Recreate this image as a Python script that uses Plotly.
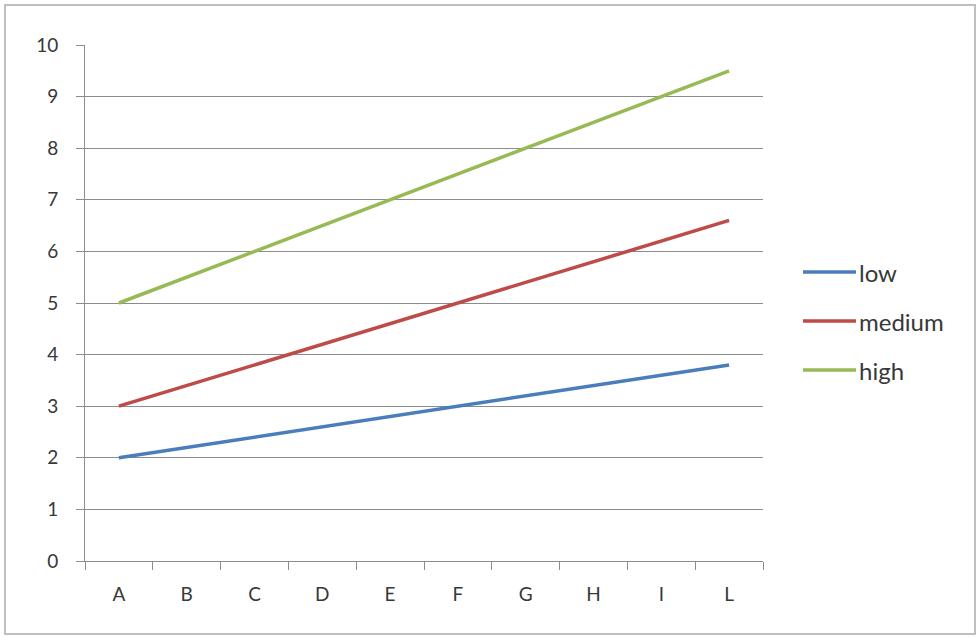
import plotly.graph_objects as go

categories = ["A", "B", "C", "D", "E", "F", "G", "H", "I", "L"]
low = [2.0, 2.2, 2.4, 2.6, 2.8, 3.0, 3.2, 3.4, 3.6, 3.8]
medium = [3.0, 3.4, 3.8, 4.2, 4.6, 5.0, 5.4, 5.8, 6.2, 6.6]
high = [5.0, 5.5, 6.0, 6.5, 7.0, 7.5, 8.0, 8.5, 9.0, 9.5]
series_names = ["low", "medium", "high"]
series_colors = ["#4A7EBB", "#BE4B48", "#98B954"]

FONT = "Lato, Carlito, 'Liberation Sans', sans-serif"
TEXT = "#383838"
GRID = "#8C8C8C"

fig = go.Figure()
for name, vals, col in zip(series_names, [low, medium, high], series_colors):
    fig.add_trace(go.Scatter(x=categories, y=vals, mode="lines", name=name,
                             line=dict(color=col, width=3.5), showlegend=False))

W, H = 979, 637
L, R, T, B = 85, 216, 45, 76
pw, ph = W - L - R, H - T - B

def px(xp):
    return (xp - L) / pw

def py(yp):
    return (H - B - yp) / ph

shapes = []
annotations = []
# outer frame
shapes.append(dict(type="rect", xref="paper", yref="paper",
                   x0=px(5), x1=px(975), y0=py(634), y1=py(5),
                   line=dict(color="#BFBFBF", width=2), layer="below"))
# legend entries
for i, (name, col) in enumerate(zip(series_names, series_colors)):
    yy = py(272 + 49 * i)
    shapes.append(dict(type="line", xref="paper", yref="paper",
                       x0=px(803), x1=px(856), y0=yy, y1=yy,
                       line=dict(color=col, width=3.5)))
    annotations.append(dict(xref="paper", yref="paper", x=px(857), y=yy,
                            text=name, showarrow=False, xanchor="left",
                            yanchor="middle",
                            font=dict(family=FONT, size=24, color=TEXT)))

fig.update_layout(
    width=W, height=H,
    margin=dict(l=L, r=R, t=T, b=B),
    paper_bgcolor="white", plot_bgcolor="white",
    shapes=shapes, annotations=annotations,
    font=dict(family=FONT, size=19, color=TEXT),
    xaxis=dict(type="category", range=[-0.5, 9.5], tickson="boundaries",
               ticks="outside", ticklen=8, tickcolor=GRID, showgrid=False,
               showline=True, linecolor=GRID, linewidth=1, zeroline=False,
               ticklabelstandoff=16, fixedrange=True),
    yaxis=dict(range=[0, 10], dtick=1, ticks="outside", ticklen=8,
               tickcolor=GRID, showgrid=True, gridcolor=GRID, gridwidth=1,
               showline=True, linecolor=GRID, linewidth=1, zeroline=False,
               ticklabelstandoff=14, fixedrange=True),
)

fig.write_html("out.html")
